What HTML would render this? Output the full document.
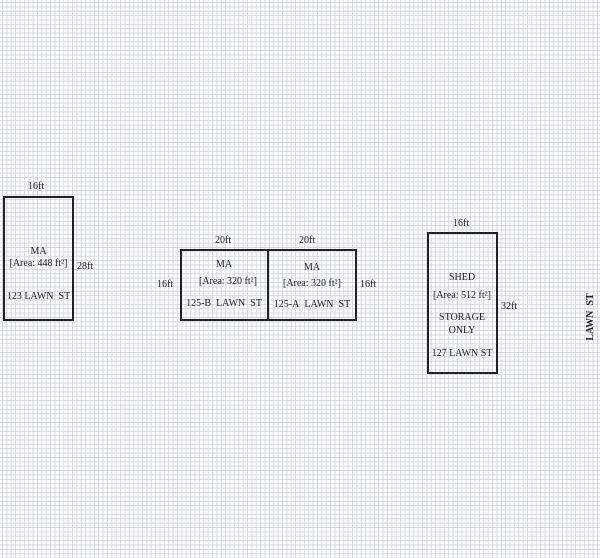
<!DOCTYPE html>
<html><head><meta charset="utf-8"><style>
html,body{margin:0;padding:0}
body{width:600px;height:558px;position:relative;overflow:hidden;background-color:#fff;
background-image:linear-gradient(to right,#d6d6e4 1px,transparent 1px),linear-gradient(to bottom,#d6d6e4 1px,transparent 1px);
background-size:4.375px 4.375px;background-position:2px 2px;
font-family:"Liberation Serif",serif;font-size:10px;color:#222}
.b{position:absolute;border:2px solid #222;box-sizing:border-box}
.t{position:absolute;white-space:nowrap;text-align:center;line-height:12px}
</style></head><body>
<div class="b" style="left:3px;top:196px;width:71px;height:125px"></div>
<div class="b" style="left:180px;top:249px;width:89px;height:72px"></div>
<div class="b" style="left:267px;top:249px;width:90px;height:72px"></div>
<div class="b" style="left:427px;top:232px;width:71px;height:142px"></div>

<div class="t" style="left:28px;top:181px">16ft</div>
<div class="t" style="left:77px;top:261px">28ft</div>
<div class="t" style="left:3px;top:246px;width:71px">MA</div>
<div class="t" style="left:3px;top:258px;width:71px">[Area: 448 ft²]</div>
<div class="t" style="left:3px;top:291px;width:71px">123 LAWN&nbsp; ST</div>

<div class="t" style="left:215px;top:235px">20ft</div>
<div class="t" style="left:299px;top:235px">20ft</div>
<div class="t" style="left:157px;top:279px">16ft</div>
<div class="t" style="left:360px;top:279px">16ft</div>
<div class="t" style="left:180px;top:259px;width:88px">MA</div>
<div class="t" style="left:180px;top:276px;width:96px">[Area: 320 ft²]</div>
<div class="t" style="left:180px;top:298px;width:88px">125-B&nbsp; LAWN&nbsp; ST</div>
<div class="t" style="left:267px;top:262px;width:90px">MA</div>
<div class="t" style="left:267px;top:278px;width:90px">[Area: 320 ft²]</div>
<div class="t" style="left:267px;top:299px;width:90px">125-A&nbsp; LAWN&nbsp; ST</div>

<div class="t" style="left:453px;top:218px">16ft</div>
<div class="t" style="left:501px;top:301px">32ft</div>
<div class="t" style="left:427px;top:272px;width:70px">SHED</div>
<div class="t" style="left:427px;top:290px;width:70px">[Area: 512 ft²]</div>
<div class="t" style="left:427px;top:312px;width:70px">STORAGE</div>
<div class="t" style="left:427px;top:325px;width:70px">ONLY</div>
<div class="t" style="left:427px;top:348px;width:70px">127 LAWN ST</div>

<div class="t" style="left:566px;top:311px;width:50px;font-weight:bold;transform:rotate(-90deg)">LAWN&nbsp; ST</div>
</body></html>
